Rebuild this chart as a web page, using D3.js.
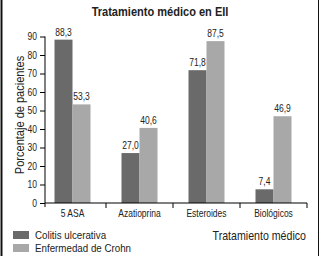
<!DOCTYPE html>
<html>
<head>
  <meta http-equiv="Content-Type" content="text/html;charset=utf-8" />
  <style type="text/css">
    body { margin: 0; background: #fff; }
    text { font-family: "Liberation Sans", Arial, sans-serif; fill: #222; }
  </style>
</head>
<body>
  <div id="svgContainer"></div>
  <script src="https://d3js.org/d3.v7.min.js"></script>
  <script type="text/javascript">
    var categories = ["5 ASA", "Azatioprina", "Esteroides", "Biológicos"];
    var series = ["Colitis ulcerativa", "Enfermedad de Crohn"];
    var colitis = [88.3, 27.0, 71.8, 7.4];
    var crohn = [53.3, 40.6, 87.5, 46.9];
    var yTicks = [0, 10, 20, 30, 40, 50, 60, 70, 80, 90];
    var colors = ["#6a6a6a", "#a8a8a8"];

    var w = 320, h = 256;
    var narrow = 0.85;  // reference font is a condensed face
    var svg = d3.select("#svgContainer")
      .append("svg")
      .attr("width", w)
      .attr("height", h);

    // condensed text helper
    function label(parent, x, y, str, size, anchor, rot) {
      var g = parent.append("g")
        .attr("transform", "translate(" + x + "," + y + ")" + (rot ? " rotate(" + rot + ")" : "") + " scale(" + narrow + ",1)");
      return g.append("text")
        .attr("text-anchor", anchor || "start")
        .style("font-size", size + "px")
        .text(str);
    }

    // frame lines left / right
    svg.append("line").attr("x1", 1.5).attr("x2", 1.5).attr("y1", 0).attr("y2", h)
      .attr("stroke", "#111").attr("stroke-width", 2);
    svg.append("line").attr("x1", 318.5).attr("x2", 318.5).attr("y1", 0).attr("y2", h)
      .attr("stroke", "#111").attr("stroke-width", 1);

    var xScale = d3.scaleBand().domain(categories).range([39, 307]);
    var sub = d3.scaleBand().domain([0, 1]).range([xScale.bandwidth() / 2 - 18, xScale.bandwidth() / 2 + 18]);
    var yScale = d3.scaleLinear().domain([0, 90]).range([203, 36.5]);

    label(svg, 160, 16, "Tratamiento médico en EII", 13, "middle").style("font-weight", "bold");

    var data = categories.map(function (c, i) { return [colitis[i], crohn[i]]; });

    data.forEach(function (pair, i) {
      var x0 = xScale(categories[i]);
      pair.forEach(function (v, j) {
        svg.append("rect")
          .attr("x", x0 + sub(j))
          .attr("width", sub.bandwidth())
          .attr("y", yScale(v))
          .attr("height", yScale(0) - yScale(v))
          .attr("fill", colors[j]);
        label(svg, x0 + sub(j) + sub.bandwidth() / 2, yScale(v) - 4, v.toFixed(1).replace(".", ","), 10, "middle");
      });
    });

    // y axis
    var yAxis = d3.axisLeft(yScale).tickValues(yTicks).tickSize(5).tickSizeOuter(0).tickFormat("");
    var gy = svg.append("g").attr("transform", "translate(45,0)").call(yAxis);
    gy.select(".domain").attr("d", "M0,36.5V207");
    yTicks.forEach(function (t) {
      label(svg, 37, yScale(t) + 3.5, t, 10, "end");
    });

    // x axis: ticks at band boundaries
    var gx = svg.append("g").attr("transform", "translate(0," + yScale(0) + ")");
    gx.append("line").attr("x1", 45).attr("x2", 307).attr("stroke", "#000");
    categories.forEach(function (c) {
      var xe = xScale(c) + xScale.bandwidth();
      gx.append("line").attr("x1", xe).attr("x2", xe).attr("y1", 0).attr("y2", 5).attr("stroke", "#000");
      label(gx, xScale(c) + xScale.bandwidth() / 2, 14, c, 10, "middle");
    });

    label(svg, 24, 115, "Porcentaje de pacientes", 13, "middle", -90);

    // legend
    series.forEach(function (s, i) {
      var yy = 231 + i * 13;
      svg.append("rect").attr("x", 13).attr("y", yy).attr("width", 16).attr("height", 8)
        .attr("fill", colors[i]);
      label(svg, 35, yy + 8, s, 11.5, "start");
    });

    label(svg, 306, 240, "Tratamiento médico", 12.5, "end");
  </script>
</body>
</html>
